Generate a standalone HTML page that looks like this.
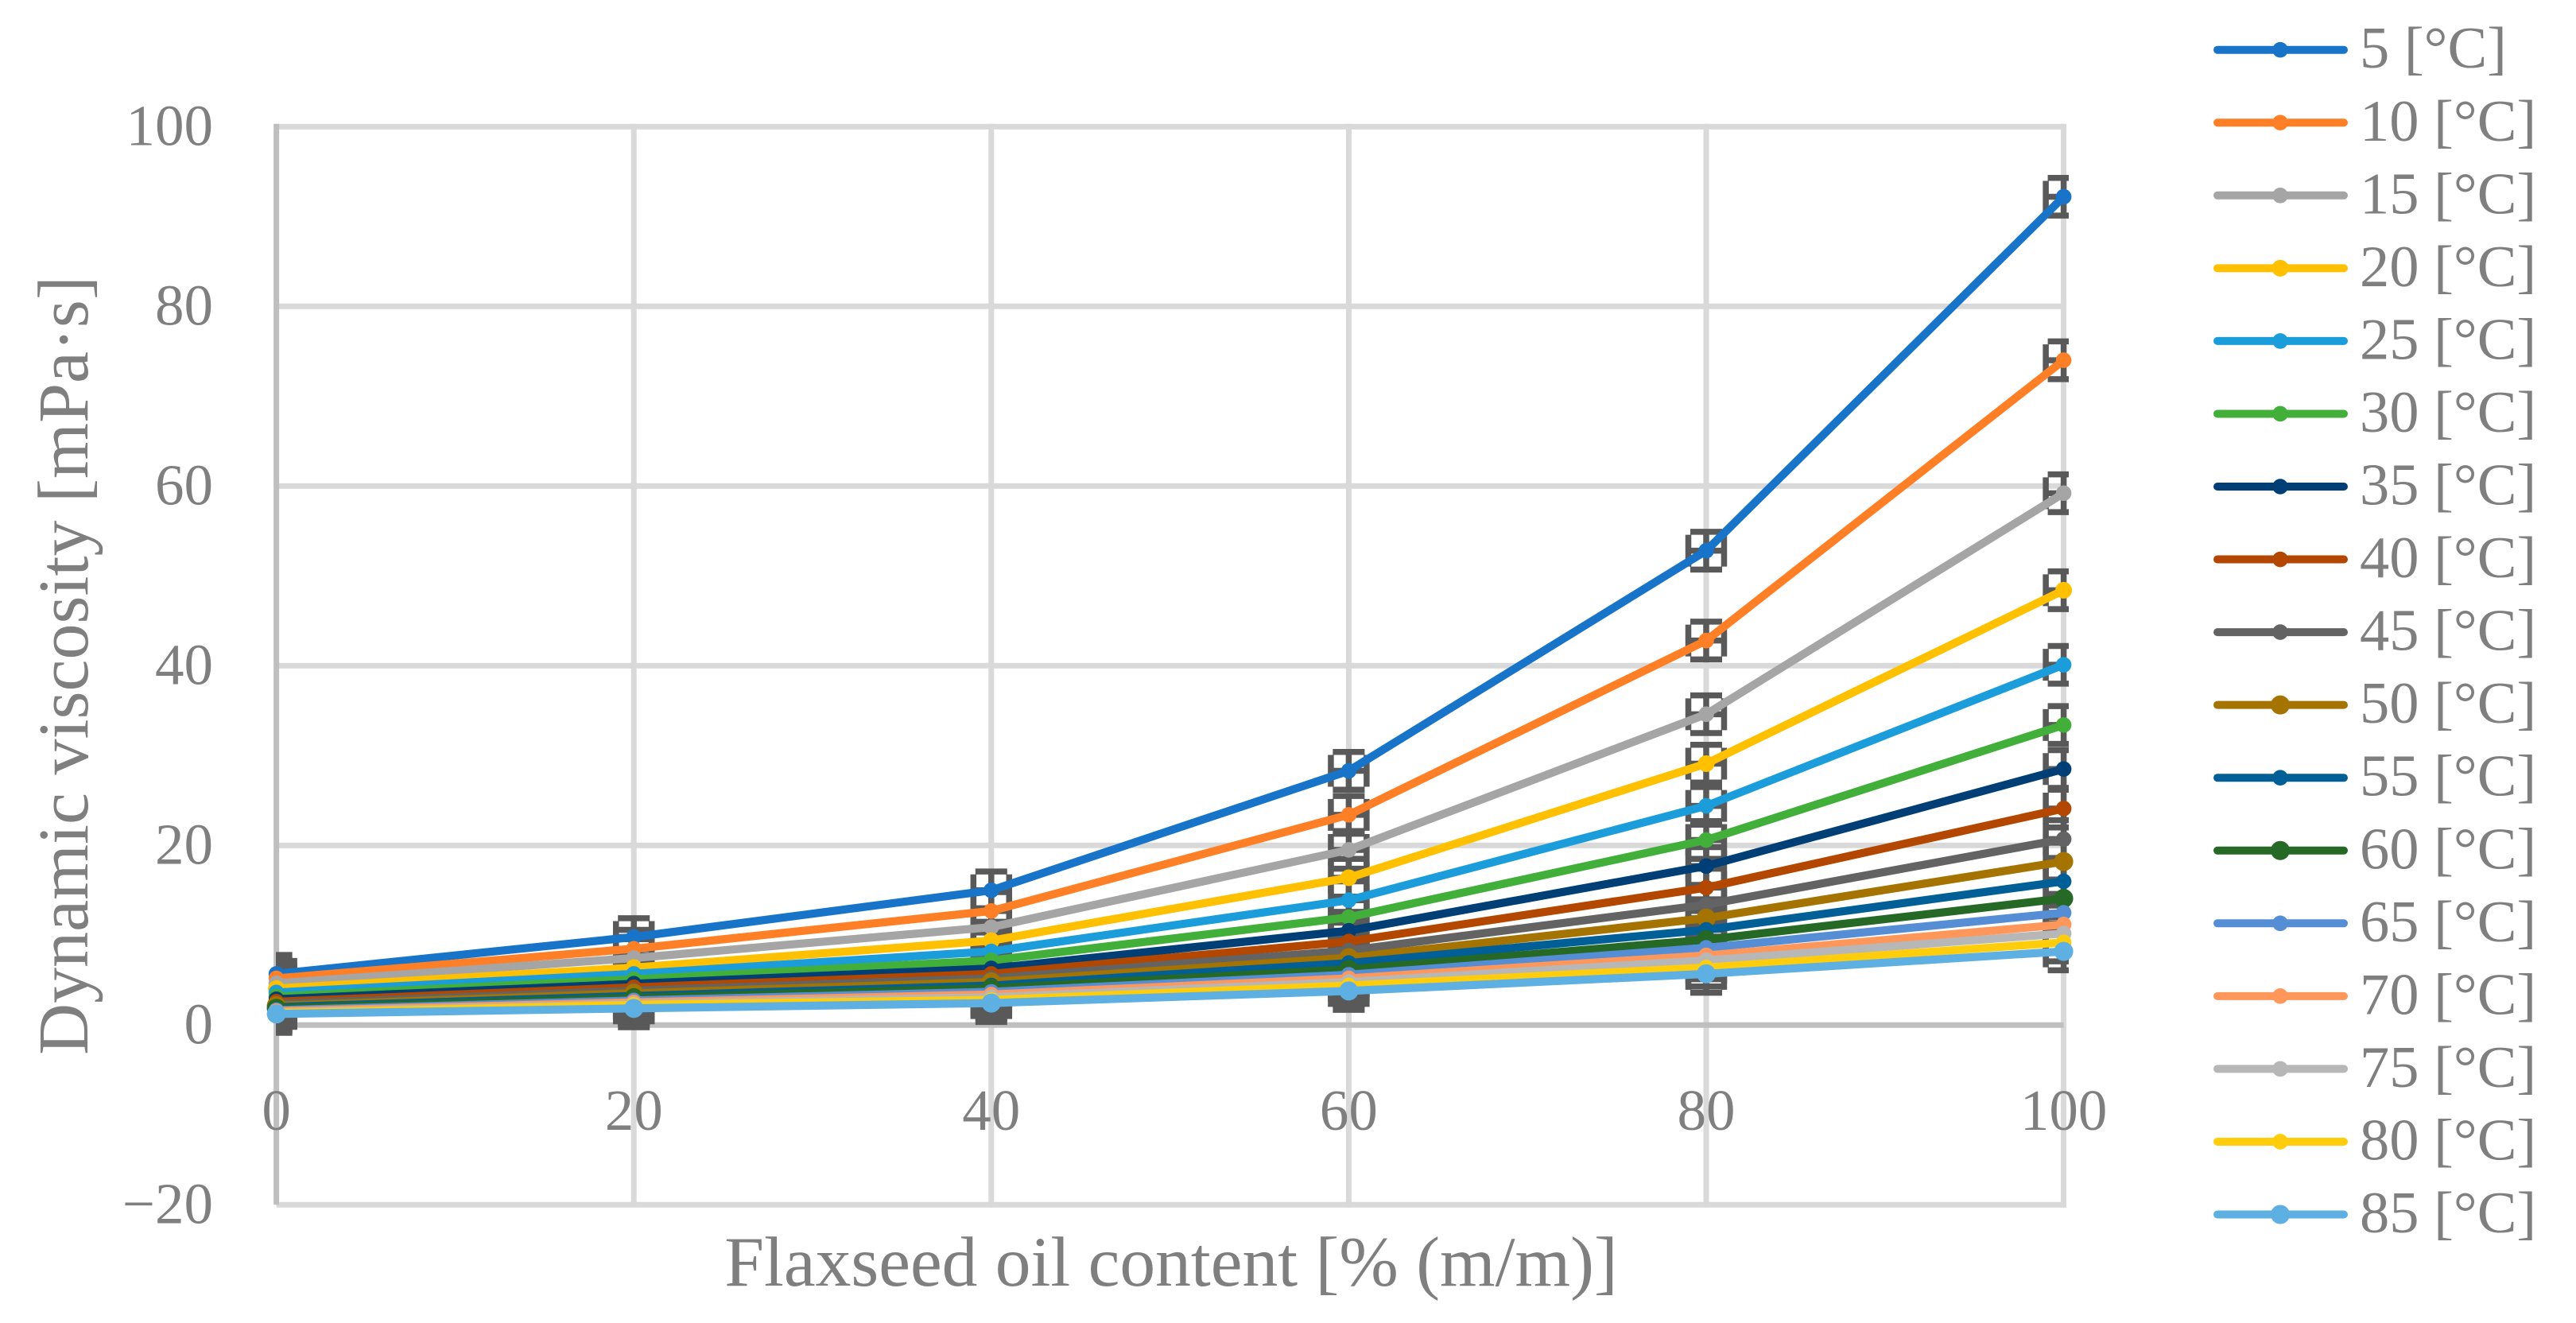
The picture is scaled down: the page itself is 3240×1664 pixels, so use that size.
<!DOCTYPE html>
<html lang="en">
<head>
<meta charset="utf-8">
<title>Dynamic viscosity vs flaxseed oil content</title>
<style>
html,body{margin:0;padding:0;background:#fff;width:3240px;height:1664px;overflow:hidden}
svg{display:block;font-family:"Liberation Serif",serif;fill:#7f7f7f}
</style>
</head>
<body>
<svg id="chart" xmlns="http://www.w3.org/2000/svg" width="3240" height="1664" viewBox="0 0 3240 1664">
<defs><clipPath id="plot-clip"><rect x="347" y="0" width="2255" height="1664"/></clipPath></defs>
<rect x="0" y="0" width="3240" height="1664" fill="#ffffff"/>
<g id="grid"></g>
<g id="ticks" font-size="73"></g>
<g id="errors" clip-path="url(#plot-clip)"></g>
<g id="series"></g>
<g id="legend" font-size="74.5"></g>
<text x="1473" y="1617" font-size="89.5" text-anchor="middle">Flaxseed oil content [% (m/m)]</text>
<text transform="translate(110,837) rotate(-90)" font-size="90" text-anchor="middle">Dynamic viscosity [mPa·s]</text>
</svg>
<script>
const xCategories = [0, 20, 40, 60, 80, 100];
const xTickLabels = ['0', '20', '40', '60', '80', '100'];
const yTickValues = [-20, 0, 20, 40, 60, 80, 100];
const yTickLabels = ['−20', '0', '20', '40', '60', '80', '100'];
const seriesNames = [5, 10, 15, 20, 25, 30, 35, 40, 45, 50, 55, 60, 65, 70, 75, 80, 85];
const seriesColors = ['#1874c9','#ff7f27','#a5a5a5','#ffc000','#1c9ddb','#43af3b','#003f76','#b34700','#636363','#a57300','#005f96','#266826','#558ed5','#ff975a','#b7b7b7','#ffcd0b','#5eb0e3'];
const markerRadii = [9.8,9.8,9.8,10.5,9.8,9.8,9.8,9.8,9.8,12,9.8,12,9.8,9.8,9.8,9.8,12];
const xError = 1;
const yError = 2.1;

const v5  = [5.7, 9.8, 15.0, 28.3, 52.8, 92.2];
const v10 = [5.2, 8.5, 12.7, 23.4, 42.8, 74.0];
const v15 = [4.65, 7.46, 10.9, 19.5, 34.6, 59.2];
const v20 = [4.07, 6.4, 9.4, 16.4, 29.1, 48.4];
const v25 = [3.63, 5.7, 8.2, 13.9, 24.4, 40.1];
const v30 = [3.18, 5.1, 7.2, 12.0, 20.6, 33.4];
const v35 = [2.88, 4.6, 6.3, 10.5, 17.7, 28.5];
const v40 = [2.6, 4.2, 5.7, 9.3, 15.3, 24.1];
const v45 = [2.36, 3.83, 5.2, 8.3, 13.4, 20.7];
const v50 = [2.15, 3.54, 4.8, 7.5, 11.9, 18.2];
const v55 = [2.0, 3.24, 4.4, 6.9, 10.6, 16.0];
const v60 = [1.86, 3.03, 4.1, 6.2, 9.5, 14.1];
const v65 = [1.66, 2.74, 3.7, 5.6, 8.6, 12.5];
const v70 = [1.55, 2.53, 3.4, 5.2, 7.75, 11.2];
const v75 = [1.42, 2.35, 3.1, 4.8, 7.2, 10.2];
const v80 = [1.33, 2.24, 2.8, 4.4, 6.4, 9.2];
const v85 = [1.24, 1.86, 2.45, 3.8, 5.7, 8.2];
const seriesValues = [v5, v10, v15, v20, v25, v30, v35, v40, v45, v50, v55, v60, v65, v70, v75, v80, v85];

const NS = 'http://www.w3.org/2000/svg';
const xAxis = v => 347.6 + v * 22.48;
const yAxis = v => 1289.3 - v * 11.3;

function mk(tag, parent, attrs, text) {
  const el = document.createElementNS(NS, tag);
  for (const k in attrs) el.setAttribute(k, attrs[k]);
  if (text !== undefined) el.textContent = text;
  parent.appendChild(el);
  return el;
}

const grid = document.getElementById('grid');
const ticks = document.getElementById('ticks');
const errors = document.getElementById('errors');
const seriesLayer = document.getElementById('series');
const legend = document.getElementById('legend');

/* gridlines */
yTickValues.forEach(v => {
  if (v === 0) return;
  const l = mk('line', grid, {x1: xAxis(0), x2: xAxis(100), y1: yAxis(v), y2: yAxis(v), stroke: '#d9d9d9', 'stroke-width': 7});
  
  
});
xCategories.forEach(v => {
  if (v === 0) return;
  const l = mk('line', grid, {x1: xAxis(v), x2: xAxis(v), y1: yAxis(100) - 3.5, y2: yAxis(-20) + 3.5, stroke: '#d9d9d9', 'stroke-width': 7});
  
  
});
const xAxisLine = mk('line', grid, {x1: xAxis(0), x2: xAxis(100), y1: yAxis(0), y2: yAxis(0), stroke: '#bfbfbf', 'stroke-width': 7});


const yAxisLine = mk('line', grid, {x1: xAxis(0), x2: xAxis(0), y1: yAxis(100) - 3.5, y2: yAxis(-20), stroke: '#bfbfbf', 'stroke-width': 7});



/* tick labels */
yTickValues.forEach((v, i) => {
  const t = mk('text', ticks, {x: 268, y: yAxis(v) + 23, 'text-anchor': 'end'}, yTickLabels[i]);
  
  
});
xCategories.forEach((v, i) => {
  const t = mk('text', ticks, {x: xAxis(v), y: 1421, 'text-anchor': 'middle'}, xTickLabels[i]);
  
  
});

/* error bars: vertical and horizontal with caps */
const capHalf = 20;
seriesValues.forEach(values => {
  values.forEach((val, i) => {
    const cx = xAxis(xCategories[i]);
    const cy = yAxis(val);
    const xl = xAxis(xCategories[i] - xError);
    const xr = xAxis(xCategories[i] + xError);
    const yt = yAxis(val + yError);
    const yb = yAxis(val - yError);
    const d = 'M' + cx + ' ' + yt + 'V' + yb +
      'M' + (cx - capHalf) + ' ' + yt + 'H' + (cx + capHalf) +
      'M' + (cx - capHalf) + ' ' + yb + 'H' + (cx + capHalf) +
      'M' + xl + ' ' + cy + 'H' + xr +
      'M' + xl + ' ' + (cy - capHalf) + 'V' + (cy + capHalf) +
      'M' + xr + ' ' + (cy - capHalf) + 'V' + (cy + capHalf);
    const p = mk('path', errors, {d: d, fill: 'none', stroke: '#595959', 'stroke-width': 7.5});
    
    
  });
});

/* series lines and markers */
seriesValues.forEach((values, s) => {
  const g = mk('g', seriesLayer, {});
  
  
  const pts = values.map((val, i) => xAxis(xCategories[i]) + ',' + yAxis(val)).join(' ');
  const line = mk('polyline', g, {points: pts, fill: 'none', stroke: seriesColors[s], 'stroke-width': 10.2, 'stroke-linejoin': 'round', 'stroke-linecap': 'round'});
  
  
  values.forEach((val, i) => {
    const c = mk('circle', g, {cx: xAxis(xCategories[i]), cy: yAxis(val), r: markerRadii[s], fill: seriesColors[s]});
    
    
  });
});

/* legend */
seriesNames.forEach((name, s) => {
  const rowY = 62.7 + s * 91.55;
  const g = mk('g', legend, {});
  
  
  const swatch = mk('line', g, {x1: 2789, x2: 2948, y1: rowY, y2: rowY, stroke: seriesColors[s], 'stroke-width': 10, 'stroke-linecap': 'round'});
  
  
  const dot = mk('circle', g, {cx: 2868, cy: rowY, r: markerRadii[s], fill: seriesColors[s]});
  
  
  const t = mk('text', g, {x: 2968, y: rowY + 22.5}, name + ' [°C]');
  
  
});
</script>
</body>
</html>
